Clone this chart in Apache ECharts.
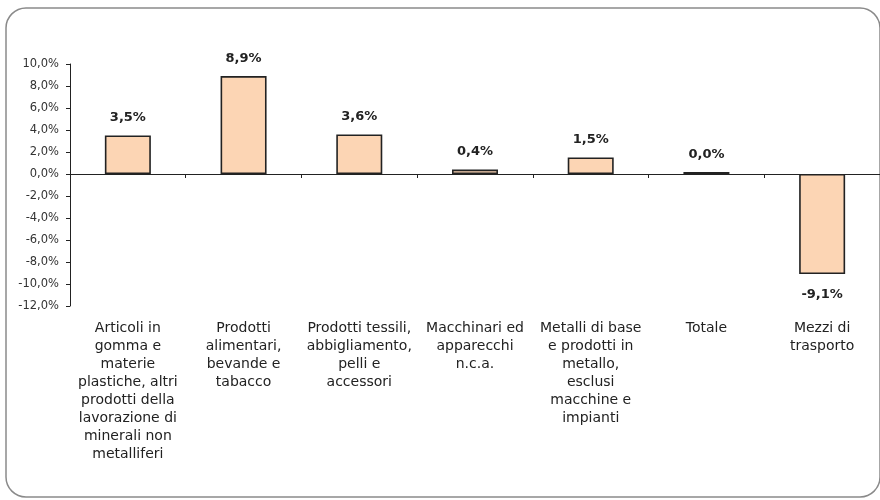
<!DOCTYPE html>
<html>
<head>
<meta charset="utf-8">
<script src="https://cdn.jsdelivr.net/npm/echarts@6/dist/echarts.min.js"></script>
<style>
  html, body { margin: 0; padding: 0; background: #ffffff; }
  #chart { width: 880px; height: 500px; }
</style>
</head>
<body>
<div id="chart"></div>
<script>
// Variazione percentuale per settore
const categories = [
  'Articoli in\ngomma e\nmaterie\nplastiche, altri\nprodotti della\nlavorazione di\nminerali non\nmetalliferi',
  'Prodotti\nalimentari,\nbevande e\ntabacco',
  'Prodotti tessili,\nabbigliamento,\npelli e\naccessori',
  'Macchinari ed\napparecchi\nn.c.a.',
  'Metalli di base\ne prodotti in\nmetallo,\nesclusi\nmacchine e\nimpianti',
  'Totale',
  'Mezzi di\ntrasporto'
];
const values = [3.5, 8.9, 3.6, 0.4, 1.5, 0.0, -9.1];

const yMin = -12, yMax = 10, yStep = 2;

const fmtPct = (v) => v.toFixed(1).replace('.', ',') + '%';

const chart = echarts.init(document.getElementById('chart'), null, { renderer: 'canvas' });

const axisColor = '#222';
const textColor = '#222';
const fontFamily = '"DejaVu Sans", Verdana, sans-serif';

chart.setOption({
  animation: false,
  backgroundColor: '#ffffff',
  graphic: [{
    type: 'rect',
    shape: { x: 6, y: 8, width: 874, height: 489, r: 20 },
    style: { fill: 'none', stroke: '#8a8a8a', lineWidth: 1.5 },
    silent: true,
    z: -10
  }],
  grid: { left: 70, top: 64, right: -9, bottom: 194, containLabel: false },
  xAxis: [
    {
      type: 'category',
      data: categories,
      position: 'bottom',
      axisLine: { show: true, onZero: true, lineStyle: { color: axisColor, width: 1 } },
      axisTick: { show: true, length: 4, inside: false, lineStyle: { color: axisColor } },
      axisLabel: { show: false },
      splitLine: { show: false }
    },
    {
      type: 'category',
      data: categories,
      position: 'bottom',
      axisLine: { show: false, onZero: false },
      axisTick: { show: false },
      axisLabel: {
        show: true,
        interval: 0,
        margin: 13,
        color: textColor,
        fontFamily: fontFamily,
        fontSize: 14,
        lineHeight: 18,
        align: 'center'
      },
      splitLine: { show: false }
    }
  ],
  yAxis: {
    type: 'value',
    min: yMin,
    max: yMax,
    interval: yStep,
    axisLine: { show: true, lineStyle: { color: axisColor, width: 1 } },
    axisTick: { show: true, length: 4, lineStyle: { color: axisColor } },
    axisLabel: {
      color: '#333',
      fontFamily: fontFamily,
      fontSize: 11.5,
      margin: 11,
      formatter: (v) => fmtPct(v)
    },
    splitLine: { show: false }
  },
  series: [{
    type: 'bar',
    xAxisIndex: 0,
    barWidth: 46,
    barMinHeight: 2,
    data: values.map((v) => ({
      value: v,
      label: { position: v < 0 ? 'bottom' : 'top', distance: v < 0 ? 14 : 11 }
    })),
    itemStyle: { color: '#FCD5B4', borderColor: '#222', borderWidth: 1.6 },
    label: {
      show: true,
      color: textColor,
      fontFamily: fontFamily,
      fontWeight: 'bold',
      fontSize: 13,
      formatter: (p) => fmtPct(p.value)
    }
  }]
});
</script>
</body>
</html>
